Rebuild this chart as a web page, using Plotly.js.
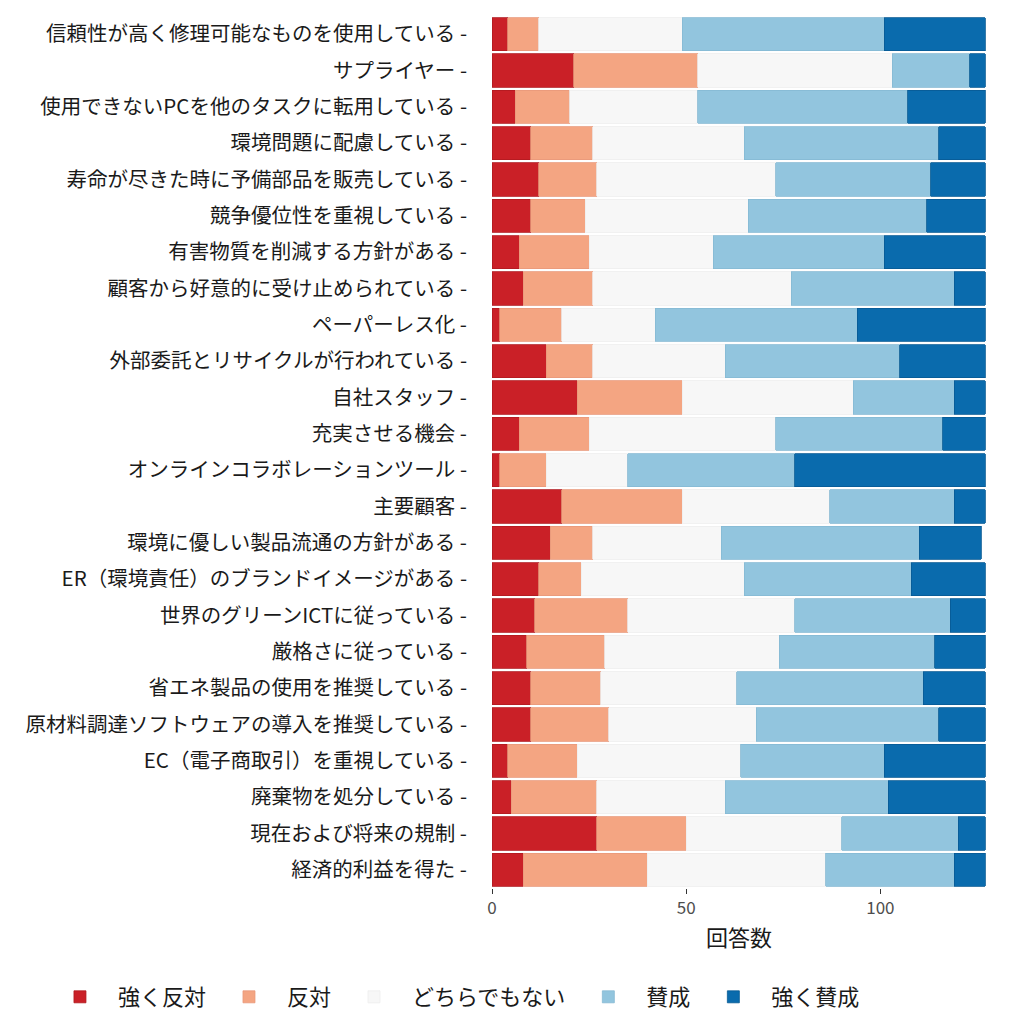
<!DOCTYPE html>
<html>
<head>
<meta charset="utf-8">
<script src="https://cdn.plot.ly/plotly-3.0.1.min.js"></script>
<style>
  html, body { margin: 0; padding: 0; background: #ffffff; }
  #grafico { width: 1024px; height: 1024px; }
</style>
</head>
<body>
<div id="grafico"></div>
<script>
/* dados (linha de cima para baixo) */
let itens = [
    "信頼性が高く修理可能なものを使用している",
    "サプライヤー",
    "使用できないPCを他のタスクに転用している",
    "環境問題に配慮している",
    "寿命が尽きた時に予備部品を販売している",
    "競争優位性を重視している",
    "有害物質を削減する方針がある",
    "顧客から好意的に受け止められている",
    "ペーパーレス化",
    "外部委託とリサイクルが行われている",
    "自社スタッフ",
    "充実させる機会",
    "オンラインコラボレーションツール",
    "主要顧客",
    "環境に優しい製品流通の方針がある",
    "ER（環境責任）のブランドイメージがある",
    "世界のグリーンICTに従っている",
    "厳格さに従っている",
    "省エネ製品の使用を推奨している",
    "原材料調達ソフトウェアの導入を推奨している",
    "EC（電子商取引）を重視している",
    "廃棄物を処分している",
    "現在および将来の規制",
    "経済的利益を得た"
];

let categorias = ["強く反対", "反対", "どちらでもない", "賛成", "強く賛成"];

let fortementeContra = [4, 21, 6, 10, 12, 10, 7, 8, 2, 14, 22, 7, 2, 18, 15, 12, 11, 9, 10, 10, 4, 5, 27, 8];
let contra           = [8, 32, 14, 16, 15, 14, 18, 18, 16, 12, 27, 18, 12, 31, 11, 11, 24, 20, 18, 20, 18, 22, 23, 32];
let neutro           = [37, 50, 33, 39, 46, 42, 32, 51, 24, 34, 44, 48, 21, 38, 33, 42, 43, 45, 35, 38, 42, 33, 40, 46];
let aFavor           = [52, 20, 54, 50, 40, 46, 44, 42, 52, 45, 26, 43, 43, 32, 51, 43, 40, 40, 48, 47, 37, 42, 30, 33];
let fortementeAFavor = [26, 4, 20, 12, 14, 15, 26, 8, 33, 22, 8, 11, 49, 8, 16, 19, 9, 13, 16, 12, 26, 25, 7, 8];

let series = [fortementeContra, contra, neutro, aFavor, fortementeAFavor];
let cores = ["#ca2027", "#f4a582", "#f7f7f7", "#92c5de", "#0a6bad"];
let bordas = ["#b01a20", "#e9987a", "#eeeeee", "#86b9d3", "#075a93"];

let traces = series.map((valores, i) => ({
    type: "bar",
    orientation: "h",
    name: categorias[i],
    x: valores,
    y: itens,
    marker: {
        color: cores[i],
        line: { color: bordas[i], width: 0.8 }
    },
    hoverinfo: "x+name"
}));

let layout = {

    width: 1024,
    height: 1024,
    barmode: "stack",
    bargap: 0.09,
    paper_bgcolor: "#ffffff",
    plot_bgcolor: "#ffffff",
    font: { family: "Noto Sans CJK JP, Noto Sans, sans-serif", color: "#1a1a1a" },

    margin: { t: 16, l: 492, r: 38, b: 136, autoexpand: false },

    xaxis: {
        range: [0, 127.2],
        tickvals: [0, 50, 100],
        ticks: "outside",
        ticklen: 5,
        tickcolor: "#333333",
        tickfont: { size: 17, color: "#4d4d4d" },
        showgrid: false,
        zeroline: false,
        showline: false,
        title: { text: "回答数", font: { size: 22, color: "#1a1a1a" }, standoff: 12 }
    },

    yaxis: {
        autorange: "reversed",
        ticks: "",
        ticksuffix: " -",
        ticklabelstandoff: 24,
        tickfont: { size: 20.5, color: "#1a1a1a" },
        showgrid: false,
        zeroline: false,
        showline: false
    },

    legend: {
        orientation: "h",
        xref: "paper",
        x: -0.911,
        xanchor: "left",
        yref: "paper",
        y: -0.125,
        yanchor: "middle",
        font: { size: 22, color: "#1a1a1a" },
        itemwidth: 66,
        traceorder: "normal"
    },

    showlegend: true
};

Plotly.newPlot("grafico", traces, layout, { displayModeBar: false });
</script>
</body>
</html>
